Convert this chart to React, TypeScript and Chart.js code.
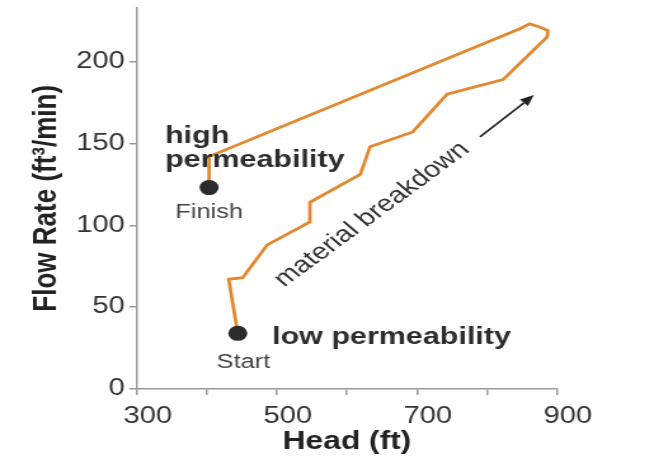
import { useEffect, useRef } from "react";
import { Chart, registerables } from "chart.js";

Chart.register(...registerables);

// ---- data ----
const HEAD_FT = [444, 431, 451, 486, 547, 547, 619, 633, 694, 743, 823, 886, 887, 876, 861, 847, 403, 403];
const FLOW_RATE = [34, 67, 68, 88, 102, 114, 131, 148, 157, 180, 189, 215, 219, 221, 223, 220, 142, 123];
const MARKER_HEAD = [444, 403];
const MARKER_FLOW = [34, 123];
const X_TICKS = [300, 400, 500, 600, 700, 800, 900];
const X_LABELS = [300, 500, 700, 900];
const Y_TICKS = [0, 50, 100, 150, 200];

const X_TITLE = "Head (ft)";
const Y_TITLE = "Flow Rate (ft³/min)";

// ---- layout / style ----
const SX = 1.27; // the reference is stretched horizontally
const OUT_W = 654;
const OUT_H = 466;
const W = Math.round(OUT_W / SX);
const FONT = "'Liberation Sans', Arial, Helvetica, sans-serif";
const LINE_COLOR = "#E2892F";
const AXIS_COLOR = "#9a9a9a";
const TEXT_DARK = "#2d2d2d";

const notesPlugin = {
  id: "notes",
  afterDatasetsDraw(chart: any) {
    const { ctx } = chart;
    const xs = chart.scales.x;
    const ys = chart.scales.y;
    const px = (v: number) => xs.getPixelForValue(v);
    const py = (v: number) => ys.getPixelForValue(v);
    ctx.save();
    ctx.fillStyle = TEXT_DARK;
    ctx.textBaseline = "alphabetic";
    ctx.textAlign = "left";
    ctx.font = `bold 24px ${FONT}`;
    ctx.fillText("high", px(340), py(150.3));
    ctx.fillText("permeability", px(340), py(135.3));
    ctx.fillText("low permeability", px(493), py(27.5));

    ctx.font = `20px ${FONT}`;
    ctx.fillStyle = "#444";
    ctx.textAlign = "center";
    ctx.fillText("Finish", px(403), py(104.2));
    ctx.fillText("Start", px(452), py(12.6));

    ctx.save();
    ctx.translate(px(635.7), py(106.6));
    ctx.rotate((-43 * Math.PI) / 180);
    ctx.textBaseline = "middle";
    ctx.textAlign = "center";
    ctx.font = `23px ${FONT}`;
    ctx.fillStyle = "#333";
    ctx.fillText("material breakdown", 0, 0);
    ctx.restore();

    // arrow
    const x0 = px(790), y0 = py(154);
    const x1 = px(867), y1 = py(179.5);
    const ang = Math.atan2(y1 - y0, x1 - x0);
    const hl = 11, hw = 4.5;
    const bx = x1 - hl * Math.cos(ang), by = y1 - hl * Math.sin(ang);
    ctx.strokeStyle = "#222";
    ctx.lineWidth = 1.6;
    ctx.beginPath();
    ctx.moveTo(x0, y0);
    ctx.lineTo(bx, by);
    ctx.stroke();
    ctx.fillStyle = "#222";
    ctx.beginPath();
    ctx.moveTo(x1, y1);
    ctx.lineTo(bx + hw * Math.sin(ang), by - hw * Math.cos(ang));
    ctx.lineTo(bx - hw * Math.sin(ang), by + hw * Math.cos(ang));
    ctx.closePath();
    ctx.fill();
    ctx.restore();
  },
};

export default function App() {
  const ref = useRef<HTMLCanvasElement | null>(null);

  useEffect(() => {
    document.body.style.margin = "0";
    const canvas = ref.current;
    if (!canvas) return;
    const chart = new Chart(canvas, {
      type: "scatter",
      data: {
        datasets: [
          {
            label: "Flow path",
            data: HEAD_FT.map((h, i) => ({ x: h, y: FLOW_RATE[i] })),
            showLine: true,
            borderColor: LINE_COLOR,
            borderWidth: 2.8,
            pointRadius: 0,
            tension: 0,
            order: 2,
          } as any,
          {
            label: "Start / Finish",
            data: MARKER_HEAD.map((h, i) => ({ x: h, y: MARKER_FLOW[i] })),
            pointRadius: 7.5,
            backgroundColor: "#2b2b2b",
            borderWidth: 0,
            order: 1,
          } as any,
        ],
      },
      options: {
        responsive: false,
        animation: false,
        devicePixelRatio: 1,
        layout: { padding: { left: 0, top: 0, right: W - 557 / SX, bottom: 0 } },
        plugins: { legend: { display: false }, tooltip: { enabled: false } },
        scales: {
          x: {
            type: "linear",
            min: 300,
            max: 900,
            afterBuildTicks: (s: any) => {
              s.ticks = X_TICKS.map((v) => ({ value: v }));
            },
            afterFit: (s: any) => {
              s.height = OUT_H - 389;
              s.paddingLeft = 0;
              s.paddingRight = 0;
            },
            ticks: {
              autoSkip: false,
              maxRotation: 0,
              padding: 8,
              labelOffset: 8.5,
              font: { family: FONT, size: 23 },
              color: "#333",
              callback: (v: any) => (X_LABELS.includes(Number(v)) ? String(v) : ""),
            },
            grid: { drawOnChartArea: false, drawTicks: true, tickLength: 6, color: AXIS_COLOR, lineWidth: 1.5 },
            border: { display: true, color: AXIS_COLOR, width: 1.5 },
            title: {
              display: true,
              text: X_TITLE,
              font: { family: FONT, size: 25, weight: "bold" },
              color: "#222",
              padding: { top: 0, bottom: 9 },
            },
          },
          y: {
            type: "linear",
            min: 0,
            max: 233,
            afterBuildTicks: (s: any) => {
              s.ticks = Y_TICKS.map((v) => ({ value: v }));
            },
            afterFit: (s: any) => {
              s.width = 137 / SX;
              s.paddingTop = 0;
              s.paddingBottom = 0;
            },
            ticks: {
              padding: 3.5,
              font: { family: FONT, size: 23 },
              color: "#333",
            },
            grid: { drawOnChartArea: false, drawTicks: true, tickLength: 6, color: AXIS_COLOR, lineWidth: 1.5 },
            border: { display: true, color: AXIS_COLOR, width: 1.5 },
            title: {
              display: true,
              text: Y_TITLE,
              font: { family: FONT, size: 26, weight: "bold" },
              color: "#222",
              padding: { top: 21, bottom: 0 },
            },
          },
        },
      } as any,
      plugins: [notesPlugin],
    });
    return () => chart.destroy();
  }, []);

  return (
    <canvas
      ref={ref}
      width={W}
      height={OUT_H}
      style={{ width: OUT_W + "px", height: OUT_H + "px", display: "block" }}
    />
  );
}
